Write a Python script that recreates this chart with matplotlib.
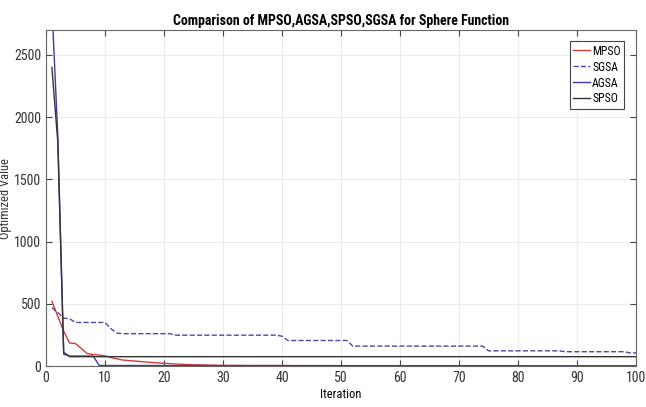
import matplotlib
matplotlib.use("Agg")
import matplotlib.pyplot as plt
from matplotlib import font_manager

iterations = list(range(1, 101))

mpso = [520, 400, 280, 185, 180, 140, 100, 92, 88, 82,
        68, 58, 48, 44, 40, 36, 32, 28, 25, 22,
        19, 16, 14, 12, 10, 9, 8, 7, 6, 5,
        5, 5, 5, 4, 4, 4, 4, 4, 4, 4,
        4, 3, 3, 3, 3, 3, 3, 3, 3, 3,
        3, 3, 3, 3, 3, 3, 3, 3, 3, 3,
        2, 2, 2, 2, 2, 2, 2, 2, 2, 2,
        2, 2, 2, 2, 2, 2, 2, 2, 2, 2,
        2, 2, 2, 2, 2, 2, 2, 2, 2, 2,
        2, 2, 2, 2, 2, 2, 2, 2, 2, 2]

sgsa = [470, 430, 385, 380, 350, 350, 350, 350, 350, 350,
        300, 265] + [260] * 9 + [248] * 18 + [240] + [205] * 11 + [160] * 23 + [122] * 13 + [115] * 11 + [105] * 2

agsa = [2900, 1850, 95, 80, 80, 80, 80, 80, 5] + [4] * 11 + [3] * 30 + [2] * 30 + [1] * 20

spso = [2400, 1800, 110] + [75] * 97

series = [
    ("MPSO", mpso, "#d23a3f", "-"),
    ("SGSA", sgsa, "#4a4aa0", "--"),
    ("AGSA", agsa, "#3a3aa8", "-"),
    ("SPSO", spso, "#333333", "-"),
]

available = {f.name for f in font_manager.fontManager.ttflist}
fam = "DejaVu Sans"
for cand in ["Liberation Sans Narrow", "Roboto Condensed", "Open Sans Condensed", "DejaVu Sans Condensed", "Lato", "Roboto"]:
    if cand in available:
        fam = cand
        break
plt.rcParams["font.family"] = [fam, "DejaVu Sans"]
stretch = "condensed"

fig = plt.figure(figsize=(6.46, 4.07), dpi=100)
ax = fig.add_axes([0.0712, 0.1007, 0.9133, 0.8253])

for name, vals, color, ls in series:
    ax.plot(iterations, vals, color=color, linestyle=ls, linewidth=1.0, label=name)

ax.set_xlim(0, 100)
ax.set_ylim(0, 2700)
ax.set_xticks(range(0, 101, 10))
ax.set_yticks(range(0, 2501, 500))
ax.grid(True, color="#ececec", linewidth=0.8)
ax.tick_params(direction="in", top=True, right=True, labelsize=10, colors="#444444", length=4)
for lab in ax.get_xticklabels() + ax.get_yticklabels():
    lab.set_fontstretch(stretch)
    lab.set_color("#333333")
for s in ax.spines.values():
    s.set_color("#666666")
    s.set_linewidth(0.8)

ax.set_title("Comparison of MPSO,AGSA,SPSO,SGSA for Sphere Function", fontsize=10,
             fontweight="bold", pad=4, fontstretch=stretch)
ax.set_xlabel("Iteration", fontsize=9, labelpad=2, fontstretch=stretch)
ax.set_ylabel("Optimized Value", fontsize=9, color="#333333")
ax.yaxis.set_label_coords(-0.058, 0.5)

leg = ax.legend(loc="upper right", fontsize=8.5, handlelength=1.4, handletextpad=0.2,
                borderpad=0.3, labelspacing=0.25, fancybox=False, framealpha=1,
                bbox_to_anchor=(0.99, 0.985), prop={"size": 8.5, "stretch": stretch})
leg.get_frame().set_edgecolor("#444444")
leg.get_frame().set_linewidth(0.8)

fig.savefig("out.png", dpi=100)
